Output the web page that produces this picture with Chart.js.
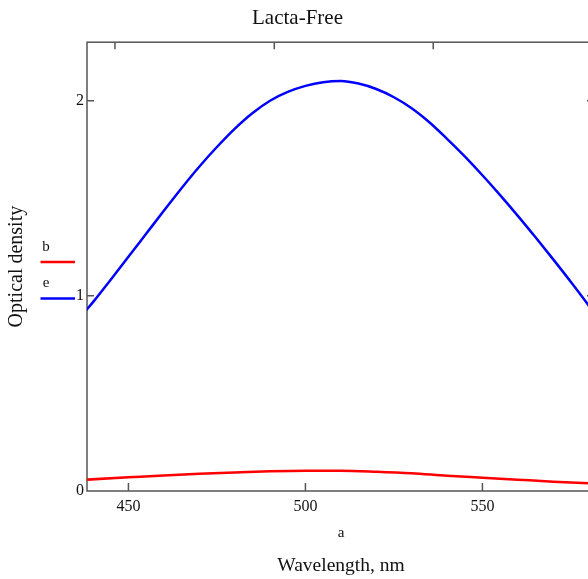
<!DOCTYPE html>
<html>
<head>
<meta charset="utf-8">
<script src="https://cdn.jsdelivr.net/npm/chart.js@4/dist/chart.umd.min.js"></script>
<style>
  html, body { margin: 0; padding: 0; background: #fff; overflow: hidden; }
  #wrap { width: 588px; height: 579px; overflow: hidden; position: relative; }
  canvas { display: block; }
</style>
</head>
<body>
<div id="wrap"><canvas id="c" width="600" height="579"></canvas></div>
<script>
// ---- data ----
const titleText = 'Lacta-Free';
const xTitle = 'Wavelength, nm';
const yTitle = 'Optical density';
const xVarLabel = 'a';
const seriesNames = ['b', 'e'];
const seriesColors = ['#ff0000', '#0000ff'];

const wavelengthsE = [438, 440, 445, 450, 455, 460, 465, 470, 475, 480, 485, 490, 495, 500, 505, 510, 515, 520, 525, 530, 535, 540, 545, 550, 555, 560, 565, 570, 575, 580, 582];
const densityE     = [0.925, 0.968, 1.083, 1.2, 1.318, 1.436, 1.552, 1.662, 1.763, 1.856, 1.936, 2.0, 2.045, 2.076, 2.095, 2.101, 2.088, 2.06, 2.018, 1.962, 1.89, 1.805, 1.715, 1.618, 1.516, 1.41, 1.30, 1.187, 1.071, 0.951, 0.90];

const wavelengthsB = [438, 450, 460, 470, 480, 490, 500, 510, 520, 530, 540, 550, 560, 570, 580, 582];
const densityB     = [0.058, 0.07, 0.08, 0.088, 0.095, 0.101, 0.104, 0.104, 0.099, 0.091, 0.078, 0.068, 0.058, 0.048, 0.040, 0.038];

const xTicksBottom = [450, 500, 550];
const xTicksTop = [446.2, 491.2, 536.1, 581.1];
const yTicks = [0, 1, 2];
const xMin = 438.3, xMax = 581.8;
const yMin = 0, yMax = 2.3;

const serif = "'Liberation Serif', 'Times New Roman', serif";
const frameColor = '#555';
const textColor = '#111';

const toPts = (xs, ys) => xs.map((x, i) => ({ x: x, y: ys[i] }));

const framePlugin = {
  id: 'frame',
  beforeDatasetsDraw(chart) {
    const { ctx, chartArea: a, scales } = chart;
    const xs = scales.x, ys = scales.y;
    ctx.save();
    ctx.strokeStyle = frameColor;
    ctx.lineWidth = 1.5;
    ctx.strokeRect(a.left, a.top, a.right - a.left, a.bottom - a.top);
    ctx.beginPath();
    const tl = 8;
    xTicksBottom.forEach(v => { const p = xs.getPixelForValue(v); ctx.moveTo(p, a.bottom); ctx.lineTo(p, a.bottom - tl); });
    xTicksTop.forEach(v => { const p = xs.getPixelForValue(v); ctx.moveTo(p, a.top); ctx.lineTo(p, a.top + tl - 1); });
    yTicks.forEach(v => {
      if (v === 0) return;
      const p = ys.getPixelForValue(v);
      ctx.moveTo(a.left, p); ctx.lineTo(a.left + tl - 1, p);
      ctx.moveTo(a.right, p); ctx.lineTo(a.right - tl, p);
    });
    ctx.stroke();
    ctx.restore();
  },
  afterDraw(chart) {
    const { ctx, chartArea: a } = chart;
    ctx.save();
    ctx.fillStyle = textColor;
    ctx.textAlign = 'center';
    ctx.textBaseline = 'middle';
    ctx.font = "15px " + serif;
    ctx.fillText(xVarLabel, (a.left + a.right) / 2, 533);
    // legend
    const legY = [[247, 262], [283, 298.5]];
    seriesNames.forEach((n, i) => {
      ctx.fillStyle = textColor;
      ctx.font = "15px " + serif;
      ctx.fillText(n, 46, legY[i][0]);
      ctx.strokeStyle = seriesColors[i];
      ctx.lineWidth = 2.5;
      ctx.beginPath();
      ctx.moveTo(40.5, legY[i][1]);
      ctx.lineTo(75, legY[i][1]);
      ctx.stroke();
    });
    ctx.restore();
  }
};

new Chart(document.getElementById('c'), {
  type: 'line',
  data: {
    datasets: [
      { label: seriesNames[0], data: toPts(wavelengthsB, densityB), borderColor: seriesColors[0], borderWidth: 2.5, pointRadius: 0, cubicInterpolationMode: 'monotone', fill: false },
      { label: seriesNames[1], data: toPts(wavelengthsE, densityE), borderColor: seriesColors[1], borderWidth: 2.5, pointRadius: 0, cubicInterpolationMode: 'monotone', fill: false }
    ]
  },
  options: {
    responsive: false,
    animation: false,
    layout: { padding: { left: 0, right: 5, top: 0, bottom: 0 } },
    plugins: {
      legend: { display: false },
      tooltip: { enabled: false },
      title: {
        display: true,
        text: titleText,
        color: textColor,
        font: { family: serif, size: 21, weight: 'normal' },
        padding: { top: 6, bottom: 11 }
      }
    },
    scales: {
      x: {
        type: 'linear',
        min: xMin, max: xMax,
        grid: { display: false, drawTicks: false },
        border: { display: false },
        afterBuildTicks: s => { s.ticks = xTicksBottom.map(v => ({ value: v })); },
        afterFit: s => { s.height = 88; },
        ticks: { color: textColor, font: { family: serif, size: 16 }, padding: 6, maxRotation: 0, callback: v => String(v) },
        title: { display: true, text: xTitle, color: textColor, font: { family: serif, size: 19.5 }, padding: { top: 0, bottom: 1 } }
      },
      y: {
        type: 'linear',
        min: yMin, max: yMax,
        grid: { display: false, drawTicks: false },
        border: { display: false },
        afterBuildTicks: s => { s.ticks = yTicks.map(v => ({ value: v })); },
        afterFit: s => { s.width = 87; },
        ticks: { color: textColor, font: { family: serif, size: 16 }, padding: 3, callback: v => String(v) },
        title: { display: true, text: yTitle, color: textColor, font: { family: serif, size: 20 }, padding: { top: 5, bottom: 0 } }
      }
    }
  },
  plugins: [framePlugin]
});
</script>
</body>
</html>
